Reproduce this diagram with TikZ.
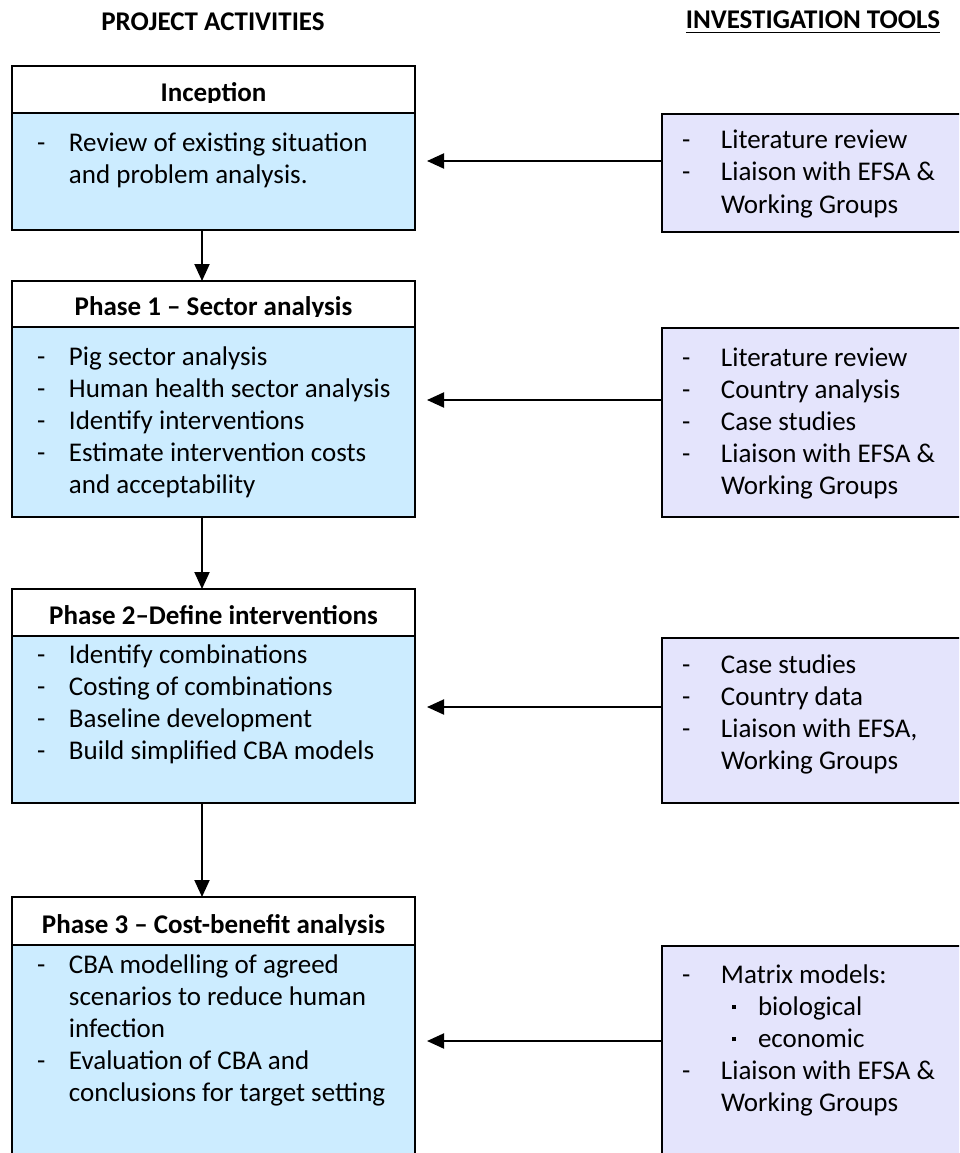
\documentclass[tikz,border=0pt]{standalone}
\usepackage{fontspec}
\setmainfont{Carlito}
\usetikzlibrary{arrows.meta}
\definecolor{actblue}{HTML}{CCECFF}
\definecolor{toollav}{HTML}{E4E4FC}
% list helpers: dash column for activities, dash column for tools, sub-bullets
\newcommand\itm{\makebox[32pt][l]{-}}
\newcommand\cont{\makebox[32pt]{}}
\newcommand\titm{\makebox[39pt][l]{-}}
\newcommand\tcont{\makebox[39pt]{}}
\newcommand\subitm{\makebox[37pt][l]{\hspace{11pt}\raisebox{6pt}{\rule{4pt}{4pt}}}}

\begin{document}
\begin{tikzpicture}[x=1pt,y=-1pt,
  every node/.style={inner sep=0pt, outer sep=0pt, font=\fontsize{27}{32}\selectfont},
  frame/.style={draw=black, line width=2pt},
  headbox/.style={frame, fill=white, minimum width=403pt, anchor=north west},
  actbox/.style={frame, fill=actblue, minimum width=403pt, anchor=north west},
  toolbox/.style={frame, fill=toollav, minimum width=300pt, anchor=north west},
  heading/.style={anchor=base, font=\fontsize{27}{32}\selectfont\bfseries},
  phasetitle/.style={anchor=base, font=\fontsize{27}{32}\selectfont\bfseries},
  itemlist/.style={anchor=base west},
  flow/.style={line width=2pt, -{Triangle[length=17pt,width=15pt]}},
]
\useasboundingbox (0,0) rectangle (959,1153);
\clip (0,0) rectangle (959,1153);

% column headings
\node[heading] (acthead) at (213,31) {PROJECT ACTIVITIES};
\node[heading] (toolhead) at (813,29) {INVESTIGATION TOOLS};
\draw[line width=1.8pt] ([yshift=-3.5pt]toolhead.base west) -- ([yshift=-3.5pt]toolhead.base east);

% ---------- Inception ----------
\node[headbox, minimum height=47pt] (incT) at (12,66) {};
\begin{scope}
  \clip (12,66) rectangle (415,103);
  \node[phasetitle] (incN) at (213.5,102) {Inception};
\end{scope}
\node[actbox, minimum height=117pt] (incB) at (12,113) {};
\node[itemlist] (incL) at (37,151) {\begin{tabular}[t]{@{}l@{}}
  \itm Review of existing situation\\
  \cont and problem analysis.
\end{tabular}};

% ---------- Phase 1 ----------
\node[headbox, minimum height=46pt] (ph1T) at (12,281) {};
\begin{scope}
  \clip (12,281) rectangle (415,316);
  \node[phasetitle] (ph1N) at (213.5,315) {Phase 1 – Sector analysis};
\end{scope}
\node[actbox, minimum height=190pt] (ph1B) at (12,327) {};
\node[itemlist] (ph1L) at (37,365) {\begin{tabular}[t]{@{}l@{}}
  \itm Pig sector analysis\\
  \itm Human health sector analysis\\
  \itm Identify interventions\\
  \itm Estimate intervention costs\\
  \cont and acceptability
\end{tabular}};

% ---------- Phase 2 ----------
\node[headbox, minimum height=47pt] (ph2T) at (12,589) {};
\begin{scope}
  \clip (12,589) rectangle (415,625);
  \node[phasetitle] (ph2N) at (213.5,624) {Phase 2–Define interventions};
\end{scope}
\node[actbox, minimum height=167pt] (ph2B) at (12,636) {};
\node[itemlist] (ph2L) at (37,663) {\begin{tabular}[t]{@{}l@{}}
  \itm Identify combinations\\
  \itm Costing of combinations\\
  \itm Baseline development\\
  \itm Build simplified CBA models
\end{tabular}};

% ---------- Phase 3 ----------
\node[headbox, minimum height=48pt] (ph3T) at (12,897) {};
\begin{scope}
  \clip (12,897) rectangle (415,934);
  \node[phasetitle] (ph3N) at (213.5,933) {Phase 3 – Cost-benefit analysis};
\end{scope}
\node[actbox, minimum height=225pt] (ph3B) at (12,945) {};
\node[itemlist] (ph3L) at (37,973) {\begin{tabular}[t]{@{}l@{}}
  \itm CBA modelling of agreed\\
  \cont scenarios to reduce human\\
  \cont infection\\
  \itm Evaluation of CBA and\\
  \cont conclusions for target setting
\end{tabular}};

% ---------- investigation tools ----------
\node[toolbox, minimum height=118pt] (tool1) at (662,114) {};
\node[itemlist] (tool1L) at (682,149) {\begin{tabular}[t]{@{}l@{}}
  \titm Literature review\\
  \titm Liaison with EFSA \&\\
  \tcont Working Groups
\end{tabular}};

\node[toolbox, minimum height=189pt] (tool2) at (662,328) {};
\node[itemlist] (tool2L) at (682,366) {\begin{tabular}[t]{@{}l@{}}
  \titm Literature review\\
  \titm Country analysis\\
  \titm Case studies\\
  \titm Liaison with EFSA \&\\
  \tcont Working Groups
\end{tabular}};

\node[toolbox, minimum height=165pt] (tool3) at (662,638) {};
\node[itemlist] (tool3L) at (682,673) {\begin{tabular}[t]{@{}l@{}}
  \titm Case studies\\
  \titm Country data\\
  \titm Liaison with EFSA,\\
  \tcont Working Groups
\end{tabular}};

\node[toolbox, minimum height=224pt] (tool4) at (662,946) {};
\node[itemlist] (tool4L) at (682,983) {\begin{tabular}[t]{@{}l@{}}
  \titm Matrix models:\\
  \tcont\subitm biological\\
  \tcont\subitm economic\\
  \titm Liaison with EFSA \&\\
  \tcont Working Groups
\end{tabular}};

% ---------- connectors ----------
\coordinate (dn) at (202,0);
\draw[flow] (incB.south -| dn) -- (ph1T.north -| dn);
\draw[flow] (ph1B.south -| dn) -- (ph2T.north -| dn);
\draw[flow] (ph2B.south -| dn) -- (ph3T.north -| dn);

\coordinate (in1) at (427,161);
\coordinate (in2) at (427,400);
\coordinate (in3) at (427,707);
\coordinate (in4) at (427,1041);
\draw[flow] (tool1.west |- in1) -- (in1);
\draw[flow] (tool2.west |- in2) -- (in2);
\draw[flow] (tool3.west |- in3) -- (in3);
\draw[flow] (tool4.west |- in4) -- (in4);
\end{tikzpicture}
\end{document}
